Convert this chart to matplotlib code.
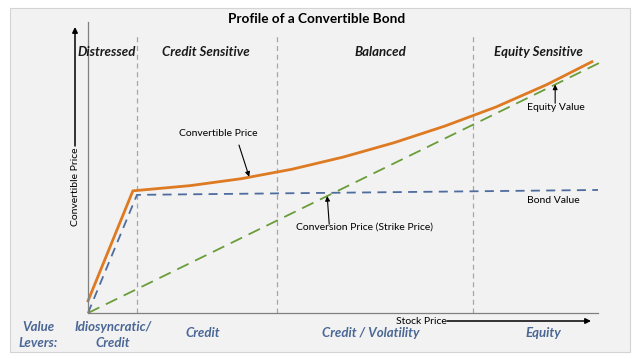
import matplotlib.pyplot as plt
from matplotlib.patches import Rectangle

plt.rcParams['font.family'] = ['Lato', 'DejaVu Sans']

# stock price (x) and value (y) in arbitrary units
conv_x = [0, 8.8, 20, 30, 40, 50, 60, 70, 80, 90, 98.8]
conv_y = [4.2, 42.4, 44.2, 46.6, 49.9, 54.1, 59.1, 64.9, 71.5, 79.3, 87.2]
bond_x = [0, 9.6, 100]
bond_y = [0, 41, 42.7]
equity_x = [0, 100.5]
equity_y = [0, 87]
zone_edges = [9.7, 37, 75.5]
zones = ['Distressed', 'Credit Sensitive', 'Balanced', 'Equity Sensitive']
levers = ['Idiosyncratic/\nCredit', 'Credit', 'Credit / Volatility', 'Equity']

W, H = 640, 359
fig = plt.figure(figsize=(W / 100, H / 100), dpi=100)

def px(x, y):
    return x / W, 1 - y / H

# grey panel
fig.patches.append(Rectangle(px(10, 352), 620 / W, 344 / H, transform=fig.transFigure,
                             facecolor='#f2f2f2', edgecolor='#d4d4d4', lw=0.8, zorder=-5))

ax = fig.add_axes([88 / W, (H - 313) / H, 510 / W, 291 / H])
ax.set_xlim(0, 100)
ax.set_ylim(0, 101)
ax.patch.set_alpha(0)
for s in ['top', 'right']:
    ax.spines[s].set_visible(False)
for s in ['left', 'bottom']:
    ax.spines[s].set_color('#808080')
    ax.spines[s].set_linewidth(0.9)
ax.set_xticks([])
ax.set_yticks([])

for xe in zone_edges:
    ax.plot([xe, xe], [0, 97], color='#a6a6a6', lw=0.9, ls=(0, (4, 3)))

ax.plot(equity_x, equity_y, color='#6a9d3a', lw=1.3, ls=(0, (7, 4)), clip_on=False)
ax.plot(bond_x, bond_y, color='#4f6c9e', lw=1.3, ls=(0, (5, 3.5)), clip_on=False)
ax.plot(conv_x, conv_y, color='#dd7a22', lw=2.0, clip_on=False, solid_joinstyle='round')

arrow = dict(arrowstyle='-|>', color='black', lw=0.8, mutation_scale=7, shrinkA=0, shrinkB=0)
ax.annotate('', xy=(31.6, 47.3), xytext=(29.6, 58.3), arrowprops=arrow)
ax.text(25.5, 62.2, 'Convertible Price', ha='center', va='center', fontsize=7.5)
ax.annotate('', xy=(91.6, 79.3), xytext=(91.6, 72.8), arrowprops=arrow)
ax.text(91.8, 71.2, 'Equity Value', ha='center', va='center', fontsize=7.5)
ax.text(91.2, 39.2, 'Bond Value', ha='center', va='center', fontsize=7.5)
ax.annotate('', xy=(46.9, 40.6), xytext=(47.3, 30.8), arrowprops=arrow)
ax.text(54.3, 29.9, 'Conversion Price (Strike Price)', ha='center', va='center', fontsize=7.5)

# title and zone labels
fig.text(*px(317, 19), 'Profile of a Convertible Bond', ha='center', va='center',
         fontsize=9.8, fontweight='bold')
for xp, label in zip([107, 206, 380, 538], zones):
    fig.text(*px(xp, 52), label, ha='center', va='center', fontsize=9.5,
             fontweight='bold', style='italic', color='#1a1a1a')

# axis titles with arrows
big = dict(arrowstyle='-|>', color='black', lw=1.1, mutation_scale=8, shrinkA=0, shrinkB=0)
ax.annotate('', xy=px(591, 321), xytext=px(447, 321), xycoords='figure fraction',
            textcoords='figure fraction', arrowprops=big, annotation_clip=False)
fig.text(*px(421, 322), 'Stock Price', ha='center', va='center', fontsize=7.5)
ax.annotate('', xy=px(75, 27), xytext=px(75, 146), xycoords='figure fraction',
            textcoords='figure fraction', arrowprops=big, annotation_clip=False)
fig.text(*px(75, 187), 'Convertible Price', ha='center', va='center', fontsize=7.5,
         rotation=90)

# value levers
lever_color = '#4a6795'
fig.text(*px(38, 335), 'Value\nLevers:', ha='center', va='center', fontsize=9.5,
         fontweight='bold', style='italic', color=lever_color, linespacing=1.35)
fig.text(*px(113, 335), levers[0], ha='center', va='center', fontsize=9.5,
         fontweight='bold', style='italic', color=lever_color, linespacing=1.35)
for xp, label in zip([203, 371, 543], levers[1:]):
    fig.text(*px(xp, 333), label, ha='center', va='center', fontsize=9.5,
             fontweight='bold', style='italic', color=lever_color)

fig.savefig('out.png', dpi=100, facecolor='white')
